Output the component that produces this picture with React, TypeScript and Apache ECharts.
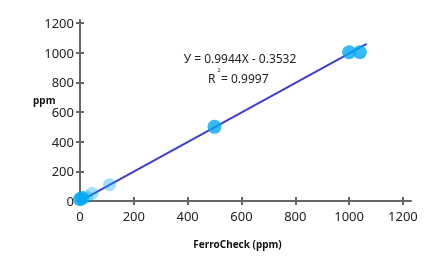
import React, { useEffect, useRef } from "react";
import * as echarts from "echarts";

const xTicks = [0, 200, 400, 600, 800, 1000, 1200];
const yTicks = [0, 200, 400, 600, 800, 1000, 1200];
const mainPoints: [number, number][] = [
  [0, 12],
  [8, 20],
  [500, 500],
  [1000, 1003],
  [1040, 1003],
];
const lightPoints: [number, number][] = [
  [25, 28],
  [45, 52],
  [110, 110],
];
const slope = 0.9944;
const intercept = -0.3532;
const fitRange = [0, 1065];
const equationText = "У = 0.9944X - 0.3532";
const r2Value = "0.9997";

const FONT = "'Noto Sans', 'Open Sans', sans-serif";
const AXIS_COLOR = "#666";

export default function App() {
  const ref = useRef<HTMLDivElement>(null);
  useEffect(() => {
    if (!ref.current) return;
    const chart = echarts.init(ref.current, null, { renderer: "svg" });
    const fitLine = fitRange.map((x) => [x, slope * x + intercept]);
    const plain = (v: number) => String(v);
    const baseX = {
      type: "value" as const,
      min: 0,
      max: 1230,
      interval: 200,
      splitLine: { show: false },
    };
    const baseY = {
      type: "value" as const,
      min: 0,
      max: 1220,
      interval: 200,
      splitLine: { show: false },
    };
    const textStyle = { fontFamily: FONT, fontSize: 12, fill: "#222" };
    chart.setOption({
      animation: false,
      grid: { left: 80, right: 34, top: 20, bottom: 68 },
      xAxis: [
        {
          ...baseX,
          name: "FerroCheck (ppm)",
          nameLocation: "middle",
          nameGap: 38,
          nameTextStyle: {
            fontFamily: FONT,
            fontWeight: "bold",
            fontSize: 10,
            color: "#111",
            padding: [0, 16, 0, 0],
          },
          axisLine: { show: true, lineStyle: { color: AXIS_COLOR, width: 2 } },
          axisTick: {
            show: true,
            length: 4,
            lineStyle: { color: AXIS_COLOR, width: 2 },
            customValues: xTicks,
          },
          axisLabel: {
            fontFamily: FONT,
            fontSize: 13,
            color: "#222",
            margin: 8,
            formatter: plain,
            customValues: xTicks,
          },
        },
        {
          ...baseX,
          position: "bottom",
          axisLine: { show: false },
          axisTick: {
            show: true,
            inside: true,
            length: 4,
            lineStyle: { color: AXIS_COLOR, width: 2 },
            customValues: xTicks,
          },
          axisLabel: { show: false },
        },
      ],
      yAxis: [
        {
          ...baseY,
          axisLine: { show: true, lineStyle: { color: AXIS_COLOR, width: 2 } },
          axisTick: {
            show: true,
            length: 4,
            lineStyle: { color: AXIS_COLOR, width: 2 },
            customValues: yTicks,
          },
          axisLabel: {
            fontFamily: FONT,
            fontSize: 13,
            color: "#222",
            margin: 6,
            formatter: plain,
            customValues: yTicks,
          },
        },
        {
          ...baseY,
          position: "left",
          axisLine: { show: false },
          axisTick: {
            show: true,
            inside: true,
            length: 4,
            lineStyle: { color: AXIS_COLOR, width: 2 },
            customValues: yTicks,
          },
          axisLabel: { show: false },
        },
      ],
      graphic: [
        {
          type: "text",
          x: 33,
          y: 100,
          style: {
            text: "ppm",
            fontFamily: FONT,
            fontWeight: "bold",
            fontSize: 10,
            fill: "#111",
            verticalAlign: "middle",
          },
        },
        {
          type: "text",
          x: 240,
          y: 58,
          style: { ...textStyle, text: equationText, align: "center", verticalAlign: "middle" },
        },
        {
          type: "text",
          x: 208,
          y: 78,
          style: { ...textStyle, text: "R", verticalAlign: "middle" },
        },
        {
          type: "text",
          x: 217.5,
          y: 70,
          style: { ...textStyle, fontSize: 5, text: "2", verticalAlign: "middle" },
        },
        {
          type: "text",
          x: 221,
          y: 78,
          style: { ...textStyle, text: "= " + r2Value, verticalAlign: "middle" },
        },
      ],
      series: [
        {
          type: "line",
          data: fitLine,
          showSymbol: false,
          symbol: "none",
          lineStyle: { color: "#3f3fcf", width: 2 },
          z: 1,
        },
        {
          type: "scatter",
          data: lightPoints,
          symbolSize: 13,
          itemStyle: { color: "rgba(3,169,244,0.45)" },
          z: 2,
        },
        {
          type: "scatter",
          data: mainPoints,
          symbolSize: 14,
          itemStyle: { color: "#03a9f4" },
          z: 3,
        },
      ],
    });
    return () => chart.dispose();
  }, []);
  return (
    <div
      ref={ref}
      style={{ position: "fixed", left: 0, top: 0, width: 445, height: 269 }}
    />
  );
}
